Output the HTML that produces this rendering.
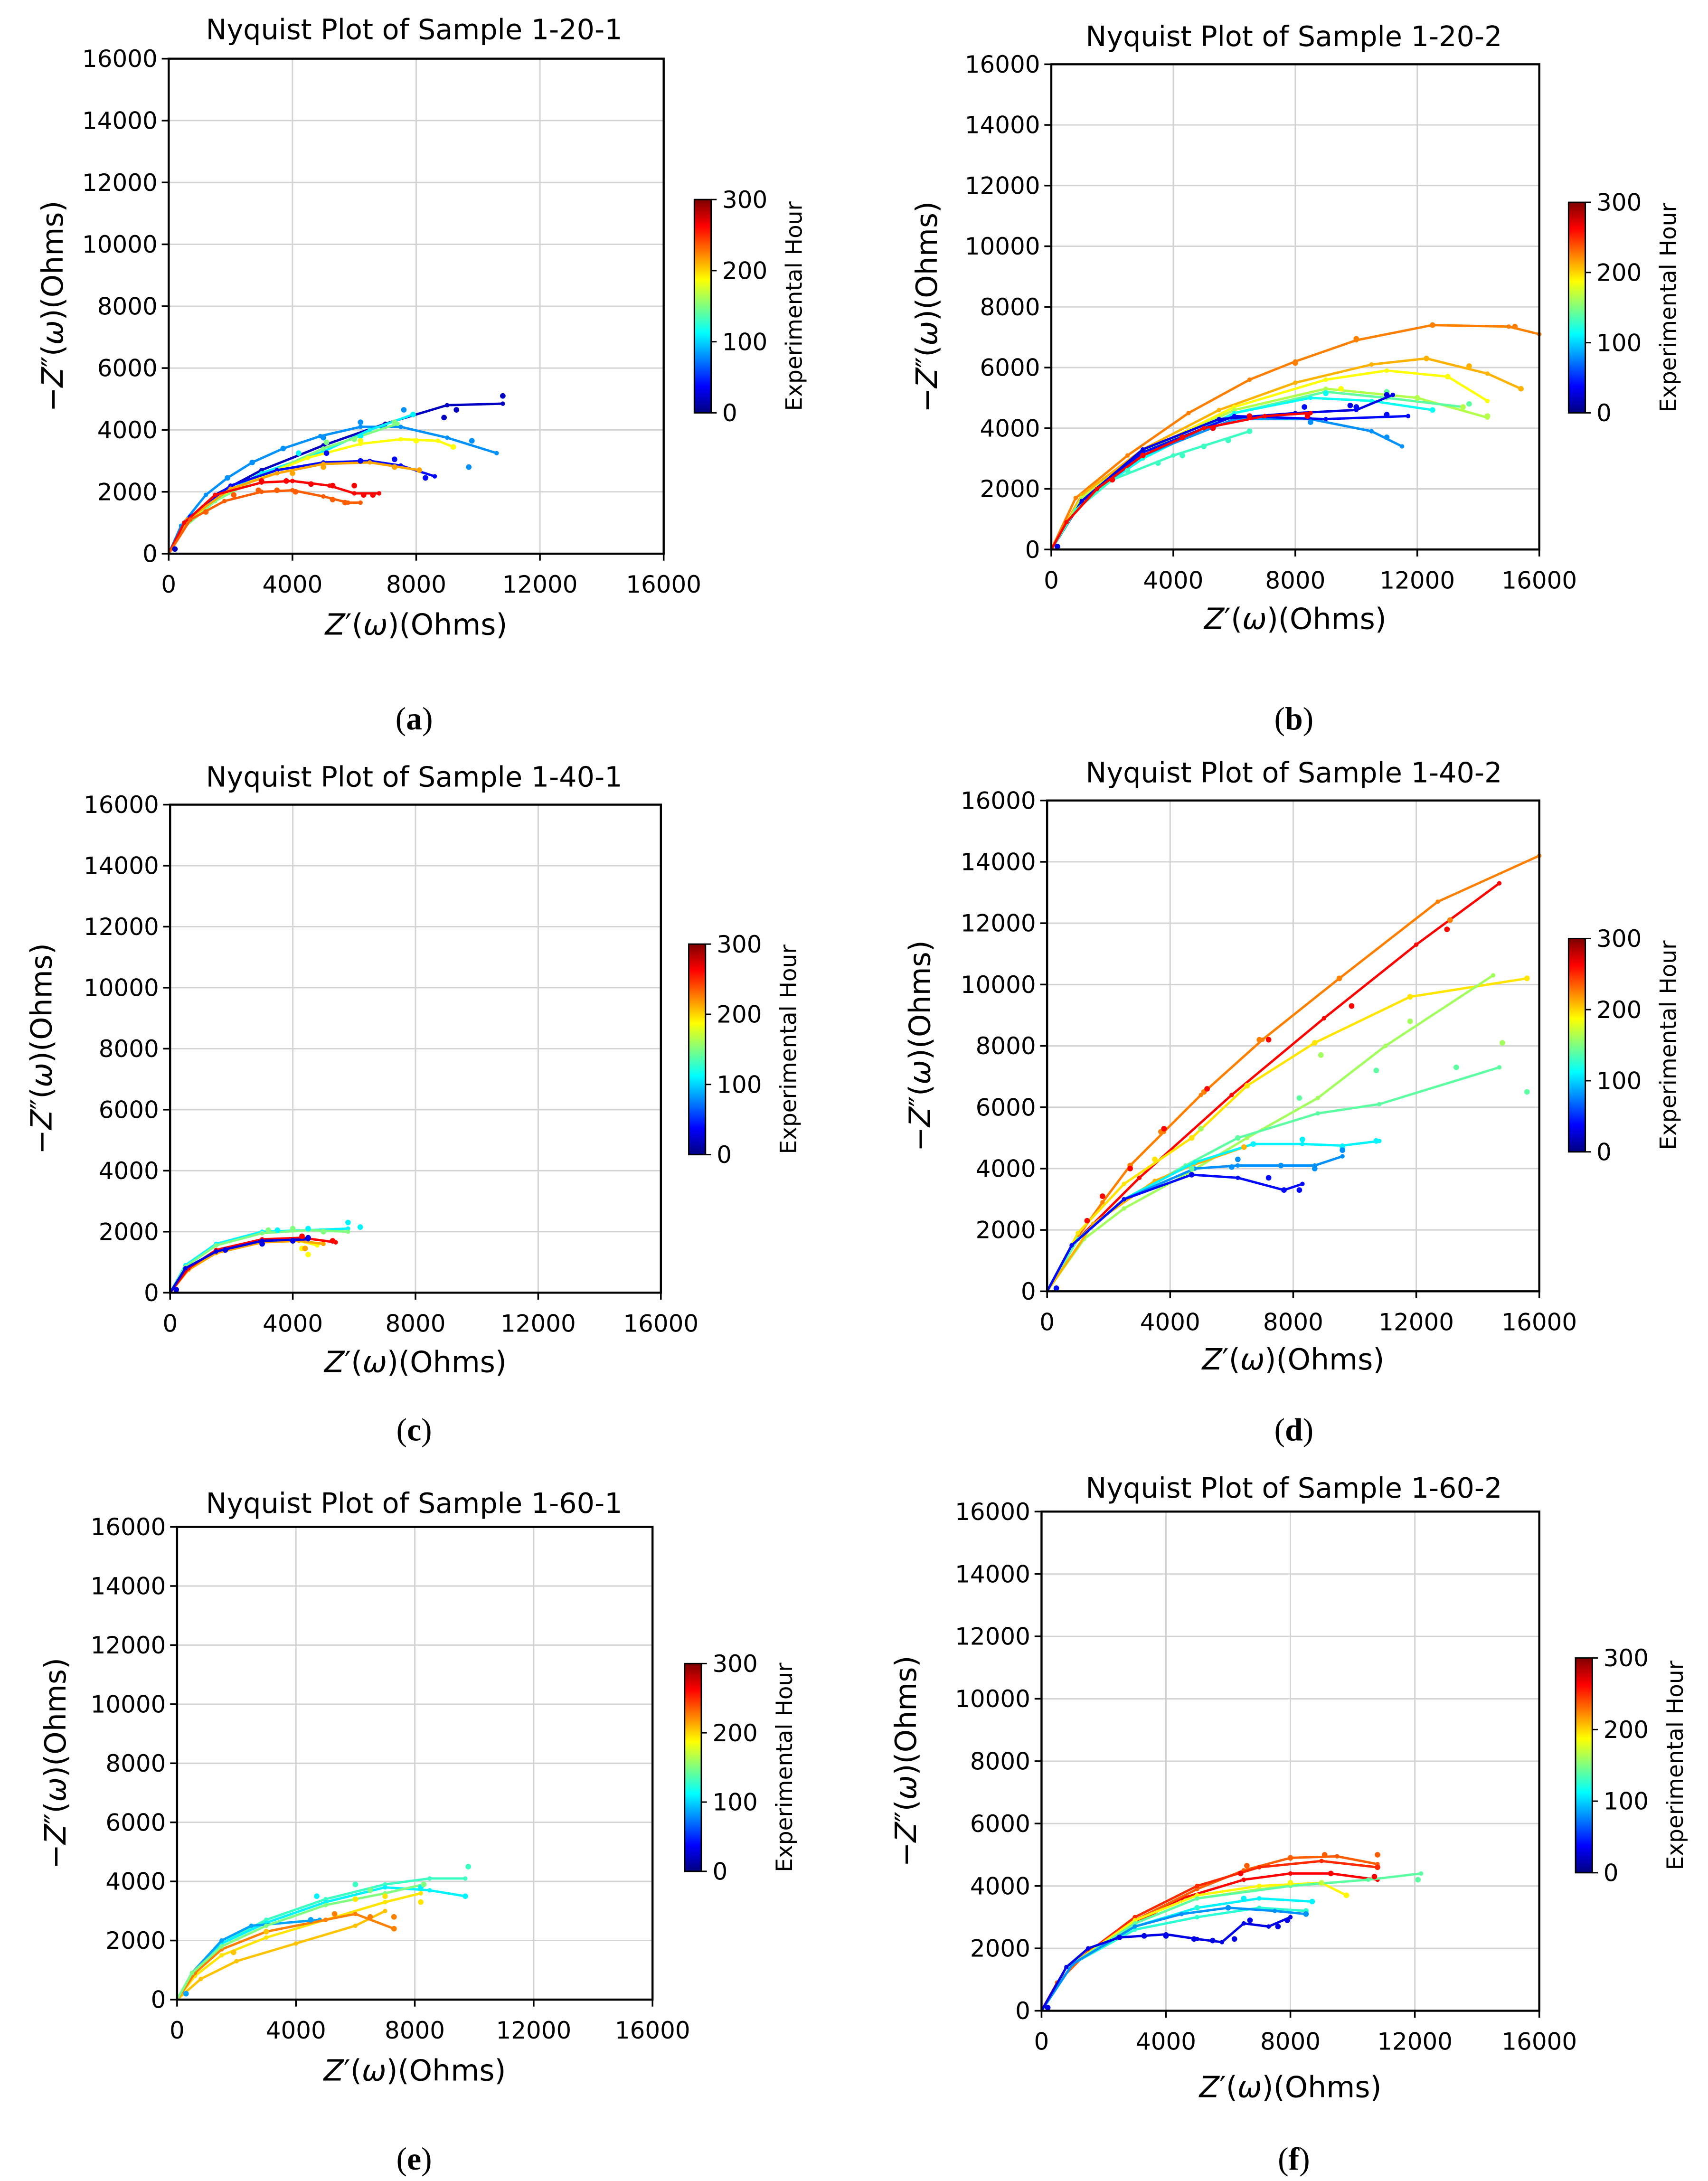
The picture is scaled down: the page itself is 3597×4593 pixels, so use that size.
<!DOCTYPE html>
<html><head><meta charset="utf-8"><style>
html,body{margin:0;padding:0;background:#fff;}
svg{display:block;}
text{font-family:"DejaVu Sans","Liberation Sans",sans-serif;fill:#000;}
.serif{font-family:"Liberation Serif",serif;}
</style></head>
<body>
<svg id="fig" width="3597" height="4593" viewBox="0 0 1225 1564" xmlns="http://www.w3.org/2000/svg">
<defs>
<linearGradient id="jet" x1="0" y1="1" x2="0" y2="0">
<stop offset="0" stop-color="#00007f"/><stop offset="0.125" stop-color="#0000ff"/><stop offset="0.375" stop-color="#00ffff"/><stop offset="0.625" stop-color="#ffff00"/><stop offset="0.875" stop-color="#ff0000"/><stop offset="1" stop-color="#7f0000"/>
</linearGradient>
</defs>
</svg>
<script>
const xTicks=[0,4000,8000,12000,16000];
const yTicks=[0,2000,4000,6000,8000,10000,12000,14000,16000];
const cbTicks=[0,100,200,300];
const titles=["Nyquist Plot of Sample 1-20-1","Nyquist Plot of Sample 1-20-2","Nyquist Plot of Sample 1-40-1","Nyquist Plot of Sample 1-40-2","Nyquist Plot of Sample 1-60-1","Nyquist Plot of Sample 1-60-2"];
const panelLetters=["a","b","c","d","e","f"];

// Panel A
const hoursA=[20,80,110,150,187,40,214,262,235];
const linesA=[
[[0,0],[500,900],[1500,1900],[3000,2700],[5000,3500],[7000,4200],[9000,4800],[10800,4850]],
[[0,0],[400,900],[1200,1900],[1900,2450],[2700,2950],[3700,3400],[4900,3800],[6200,4100],[7500,4100],[9000,3750],[10600,3250]],
[[0,0],[500,900],[1500,1800],[3000,2600],[5000,3300],[6500,4000],[7900,4500]],
[[0,0],[500,850],[1500,1700],[3000,2500],[5000,3400],[7400,4200]],
[[0,0],[600,1000],[1500,1800],[3000,2500],[4500,3100],[6200,3550],[7500,3700],[8700,3650],[9200,3450]],
[[0,0],[700,1200],[2000,2200],[3500,2700],[5000,2950],[6500,3000],[7500,2850],[8600,2500]],
[[0,0],[600,1100],[2000,2100],[3500,2600],[5000,2900],[6500,2950],[8100,2700]],
[[0,0],[500,1000],[1500,1900],[3000,2300],[4000,2350],[5200,2200],[6000,1950],[6800,1950]],
[[0,0],[700,1100],[1800,1700],[3000,2000],[4000,2050],[5000,1850],[5800,1650],[6200,1650]]];
const dotsA=[
[[10800,5100],[9300,4650],[8900,4400],[200,150]],
[[1900,2450],[2700,2950],[3700,3400],[5000,3750],[6200,4250],[7600,4650],[9800,3650],[9700,2800]],
[[4200,3250],[6200,3800],[7900,4500]],
[[5100,3600],[7300,4250],[6000,3700]],
[[6200,3650],[8000,3650],[9200,3450]],
[[5100,3250],[7300,3050],[8300,2450],[6200,3000]],
[[4000,2600],[5000,2800],[7300,2800],[8100,2700]],
[[3000,2350],[3800,2350],[4600,2250],[5300,2200],[6000,2200],[6300,1900],[6600,1900]],
[[1200,1350],[2100,1900],[2900,2050],[3500,2050],[4100,2000],[5300,1750],[5700,1650]]];

// Panel B
const hoursB=[225,210,187,165,140,115,80,40,30,130,262];
const linesB=[
[[0,0],[800,1700],[2500,3100],[4500,4500],[6500,5600],[8000,6200],[10000,6900],[12500,7400],[15000,7350],[16000,7100]],
[[0,0],[1000,1800],[3000,3300],[5500,4600],[8000,5500],[10500,6100],[12300,6300],[14300,5800],[15400,5300]],
[[0,0],[1000,1700],[3000,3200],[6000,4700],[9000,5600],[11000,5900],[13000,5700],[14300,4900]],
[[0,0],[1000,1700],[3000,3200],[6000,4600],[9000,5300],[12000,5000],[14300,4350]],
[[0,0],[1000,1600],[3000,3000],[6000,4500],[9000,5200],[11000,5000],[13500,4700]],
[[0,0],[1000,1600],[3000,3000],[6000,4500],[8500,5000],[10500,4900],[12500,4600]],
[[0,0],[1000,1600],[3000,3100],[6000,4300],[8500,4300],[10500,3900],[11500,3400]],
[[0,0],[1000,1600],[3000,3200],[6000,4400],[9000,4300],[11700,4400]],
[[0,0],[1000,1600],[3000,3300],[5500,4300],[8000,4500],[10000,4600],[11200,5100]],
[[0,0],[800,1300],[2000,2300],[4000,3100],[6500,3900]],
[[0,0],[500,900],[1500,2000],[3000,3100],[5000,4000],[7000,4400],[8500,4500]]];
const dotsB=[
[[12500,7400],[15200,7350],[10000,6950],[8000,6150]],
[[12300,6300],[13700,6050],[15400,5300]],
[[13000,5700],[9500,5300]],
[[12000,5000],[13500,4700],[14300,4400]],
[[13700,4800],[11000,5200]],
[[12500,4600],[9000,5150]],
[[11000,3700],[8500,4200]],
[[10000,4700],[11000,4450],[8300,4700]],
[[9800,4750],[11000,5100],[200,100]],
[[2500,2600],[3500,2850],[4300,3100],[5000,3400],[5800,3600],[6500,3900]],
[[2000,2300],[3000,3100],[4300,3700],[5300,4000],[6500,4400],[8400,4400]]];

// Panel C
const hoursC=[110,150,187,214,262,30];
const linesC=[
[[0,0],[500,900],[1500,1600],[3000,2000],[4500,2050],[5800,2100]],
[[0,0],[500,850],[1500,1550],[3000,1950],[4500,2050],[5800,2000]],
[[0,0],[500,750],[1500,1350],[3000,1700],[4000,1750],[4800,1550]],
[[0,0],[600,750],[1500,1300],[3000,1650],[4200,1700],[5000,1600]],
[[0,0],[600,800],[1500,1400],[3000,1750],[4300,1800],[5400,1650]],
[[0,0],[500,800],[1500,1350],[3000,1700],[4500,1750]]];
const dotsC=[
[[6200,2150],[5800,2300],[3500,2050],[4500,2100]],
[[3200,2050],[4000,2100],[5000,2000]],
[[4500,1250],[4300,1450]],
[[4400,1450]],
[[4300,1850],[5300,1700]],
[[1800,1400],[3000,1600],[4000,1700],[4500,1800],[200,100]]];

// Panel D
const hoursD=[225,262,195,160,140,210,110,80,40];
const linesD=[
[[0,0],[800,1500],[1800,2900],[2700,4100],[3800,5200],[5000,6400],[7000,8200],[9500,10200],[12700,12700],[16000,14200]],
[[0,0],[1000,1700],[3000,3700],[6000,6400],[9000,8900],[12000,11300],[14700,13300]],
[[0,0],[1000,1900],[2500,3500],[4700,5000],[6500,6700],[8700,8100],[11800,9600],[15600,10200]],
[[0,0],[1200,1700],[2500,2700],[4500,3800],[6500,5000],[8800,6300],[11000,8000],[14500,10300]],
[[0,0],[1000,1700],[2500,3000],[4500,4100],[6200,5000],[8800,5800],[10800,6100],[14700,7300]],
[[0,0],[1500,2200],[3500,3600],[4700,4100],[6400,4700]],
[[0,0],[800,1500],[2500,3000],[4800,4200],[6700,4800],[8300,4800],[9600,4750],[10800,4900]],
[[0,0],[800,1500],[2500,3000],[4800,4000],[6200,4100],[8700,4100],[9600,4400]],
[[0,0],[800,1500],[2500,3000],[4700,3800],[6200,3700],[7700,3300],[8300,3500]]];
const dotsD=[
[[2700,4100],[3700,5200],[5100,6500],[6900,8200],[9500,10200],[13100,12100]],
[[1300,2300],[1800,3100],[2700,4000],[3800,5300],[5200,6600],[7200,8200],[9900,9300],[13000,11800]],
[[15600,10200],[11800,9600],[8700,8100],[6500,6700],[4700,5000],[3500,4300]],
[[8900,7700],[11800,8800],[14800,8100],[5000,5300]],
[[4700,4000],[6200,5000],[8200,6300],[10700,7200],[13300,7300],[15600,6500]],
[[6400,4700]],
[[8300,4950],[9600,4700],[10700,4900],[6700,4800]],
[[6000,4050],[6200,4300],[7600,4100],[8700,4000],[9600,4600]],
[[4700,3800],[7200,3700],[7700,3300],[8200,3300],[300,100]]];

// Panel E
const hoursE=[130,110,85,195,205,225,150];
const linesE=[
[[0,0],[500,900],[1500,1900],[3000,2700],[5000,3400],[7000,3900],[8500,4100],[9700,4100]],
[[0,0],[500,900],[1500,1900],[3000,2600],[5000,3300],[7000,3800],[8500,3700],[9700,3500]],
[[0,0],[500,900],[1500,2000],[2500,2500],[4800,2700]],
[[0,0],[600,800],[1500,1500],[3000,2100],[5000,2700],[7000,3300],[8200,3600]],
[[0,0],[800,700],[2000,1300],[4000,1900],[6000,2500],[7000,3000]],
[[0,0],[600,900],[1500,1700],[3000,2300],[5000,2700],[6000,2900],[7300,2400]],
[[0,0],[500,900],[1500,1800],[3000,2500],[5000,3200],[7000,3600],[8300,3900]]];
const dotsE=[
[[9800,4500],[6000,3900]],
[[9700,3500],[8200,3800],[4700,3500]],
[[4500,2700],[300,200]],
[[8200,3300],[6000,3400],[7000,3500]],
[[1900,1600],[3000,2300]],
[[6500,2800],[7300,2400],[7300,2800],[5300,2900]],
[[8300,3900],[6500,3700]]];

// Panel F
const hoursF=[262,235,250,190,170,140,110,125,80,30];
const linesF=[
[[0,0],[500,900],[1500,1900],[3000,2800],[4500,3600],[6500,4200],[8000,4400],[9300,4400],[10800,4200]],
[[0,0],[500,900],[1500,1900],[3000,2900],[5000,3900],[6500,4500],[8000,4900],[9500,4950],[10800,4700]],
[[0,0],[1000,1500],[3000,3000],[5000,4000],[7000,4600],[9000,4800],[10800,4600]],
[[0,0],[1000,1500],[3000,2900],[5000,3700],[7000,4000],[9000,4100],[9800,3700]],
[[0,0],[1000,1500],[3000,2800],[5000,3600],[7000,3900],[9000,4100]],
[[0,0],[1000,1500],[3000,2800],[5000,3600],[8000,4000],[10500,4200],[12200,4400]],
[[0,0],[1000,1500],[3000,2700],[5000,3300],[7000,3600],[8700,3500]],
[[0,0],[1000,1500],[3000,2600],[5000,3000],[7000,3300],[8500,3200]],
[[0,0],[1000,1500],[3000,2700],[4500,3100],[6000,3300],[7500,3200],[8500,3100]],
[[0,0],[800,1400],[1500,2000],[2500,2350],[4000,2450],[5000,2300],[5800,2200],[6500,2800],[7300,2700],[8000,3000]]];
const dotsF=[
[[6400,4400],[9300,4400],[10700,4300]],
[[10800,5000],[9100,5000],[6600,4650],[8000,4900]],
[[10800,4600]],
[[9800,3700],[8000,4100]],
[[9000,4100]],
[[12100,4200]],
[[8700,3500],[6500,3600]],
[[8500,3200],[5000,3300]],
[[8500,3100],[6000,3300]],
[[2500,2350],[3300,2400],[4000,2400],[4900,2300],[5500,2250],[6200,2300],[6700,2900],[7600,2700],[7900,2900],[200,100]]];

const allHours=[hoursA,hoursB,hoursC,hoursD,hoursE,hoursF];
const allLines=[linesA,linesB,linesC,linesD,linesE,linesF];
const allDots=[dotsA,dotsB,dotsC,dotsD,dotsE,dotsF];

const geom=[
{L:121,R:476,T:42,B:397,cbx:498,cbT:143,cbB:296,ylx:38,tx:297,ty:28,xly:455,lab:[297,523]},
{L:754,R:1104,T:46,B:394,cbx:1125,cbT:145,cbB:296,ylx:665,tx:928,ty:33,xly:451,lab:[928,523]},
{L:122,R:474,T:577,B:927,cbx:494,cbT:677,cbB:828,ylx:30,tx:297,ty:564,xly:984,lab:[297,1033]},
{L:751,R:1104,T:574,B:926,cbx:1125,cbT:673,cbB:826,ylx:660,tx:928,ty:561,xly:982,lab:[928,1033]},
{L:127,R:468,T:1095,B:1434,cbx:491,cbT:1193,cbB:1342,ylx:40,tx:297,ty:1085,xly:1492,lab:[297,1556]},
{L:747,R:1104,T:1084,B:1442,cbx:1130,cbT:1189,cbB:1343,ylx:650,tx:928,ty:1074,xly:1504,lab:[928,1556]}];

const NS="http://www.w3.org/2000/svg";
const svg=document.getElementById('fig');
function mk(tag,attrs,parent){const e=document.createElementNS(NS,tag);for(const k in attrs)e.setAttribute(k,attrs[k]);(parent||svg).appendChild(e);return e;}
function jet(h){const v=Math.max(0,Math.min(1,h/300));const c=x=>Math.round(255*Math.max(0,Math.min(1,x)));return `rgb(${c(1.5-Math.abs(4*v-3))},${c(1.5-Math.abs(4*v-2))},${c(1.5-Math.abs(4*v-1))})`;}

geom.forEach((g,p)=>{
  const grp=mk('g',{});
  
  
  const sx=v=>g.L+(v/16000)*(g.R-g.L);
  const sy=v=>g.B-(v/16000)*(g.B-g.T);
  xTicks.forEach(t=>{if(t>0&&t<16000){const l=mk('line',{x1:sx(t),x2:sx(t),y1:g.T,y2:g.B,stroke:'#d3d3d3','stroke-width':1},grp);}});
  yTicks.forEach(t=>{if(t>0&&t<16000){const l=mk('line',{x1:g.L,x2:g.R,y1:sy(t),y2:sy(t),stroke:'#d3d3d3','stroke-width':1},grp);}});
  const hrs=allHours[p],lines=allLines[p],dots=allDots[p];
  lines.forEach((ln,i)=>{
    const pl=mk('polyline',{points:ln.map(d=>sx(d[0])+','+sy(d[1])).join(' '),fill:'none',stroke:jet(hrs[i]),'stroke-width':1.7,'stroke-linejoin':'round'},grp);
    
    
    ln.forEach(d=>{if(d[0]>0){const c=mk('circle',{cx:sx(d[0]),cy:sy(d[1]),r:1.6,fill:jet(hrs[i])},grp);}});
  });
  dots.forEach((ds,i)=>{ds.forEach(d=>{
    const c=mk('circle',{cx:sx(d[0]),cy:sy(d[1]),r:2,fill:jet(hrs[i])},grp);
    
    
  });});
  const fr=mk('rect',{x:g.L,y:g.T,width:g.R-g.L,height:g.B-g.T,fill:'none',stroke:'#000','stroke-width':1.5},grp);
  
  xTicks.forEach(t=>{
    mk('line',{x1:sx(t),x2:sx(t),y1:g.B,y2:g.B+5,stroke:'#000','stroke-width':1.2},grp);
    const tx=mk('text',{x:sx(t),y:g.B+28,'font-size':17,'text-anchor':'middle'},grp);tx.textContent=t;
    
  });
  yTicks.forEach(t=>{
    mk('line',{x1:g.L-5,x2:g.L,y1:sy(t),y2:sy(t),stroke:'#000','stroke-width':1.2},grp);
    const tx=mk('text',{x:g.L-8,y:sy(t)+6,'font-size':17,'text-anchor':'end'},grp);tx.textContent=t;
    
  });
  const ti=mk('text',{x:g.tx,y:g.ty,'font-size':20,'text-anchor':'middle'},grp);ti.textContent=titles[p];
  
  const xl=mk('text',{x:(g.L+g.R)/2,y:g.xly,'font-size':21,'text-anchor':'middle'},grp);
  xl.innerHTML='<tspan font-style="italic">Z</tspan>′(<tspan font-style="italic">ω</tspan>)(Ohms)';
  
  const ym=(g.T+g.B)/2;
  const yl=mk('text',{x:g.ylx,y:ym,'font-size':21,'text-anchor':'middle',transform:`rotate(-90 ${g.ylx} ${ym})`,dy:7},grp);
  yl.innerHTML='−<tspan font-style="italic">Z</tspan>″(<tspan font-style="italic">ω</tspan>)(Ohms)';
  
  const cb=mk('rect',{x:g.cbx,y:g.cbT,width:12,height:g.cbB-g.cbT,fill:'url(#jet)',stroke:'#000','stroke-width':1},grp);
  
  cbTicks.forEach(t=>{
    const y=g.cbB-(t/300)*(g.cbB-g.cbT);
    mk('line',{x1:g.cbx+12,x2:g.cbx+16,y1:y,y2:y,stroke:'#000','stroke-width':1},grp);
    const tx=mk('text',{x:g.cbx+20,y:y+6,'font-size':17},grp);tx.textContent=t;
    
  });
  const cm=(g.cbT+g.cbB)/2, cx=g.cbx+77;
  const ct=mk('text',{x:cx,y:cm,'font-size':16,'text-anchor':'middle',transform:`rotate(-90 ${cx} ${cm})`},grp);ct.textContent='Experimental Hour';
  
  const pl=mk('text',{x:g.lab[0],y:g.lab[1],'font-size':23,'text-anchor':'middle',class:'serif'},grp);
  pl.innerHTML='(<tspan font-weight="bold">'+panelLetters[p]+'</tspan>)';
  
});
</script>
</body></html>
